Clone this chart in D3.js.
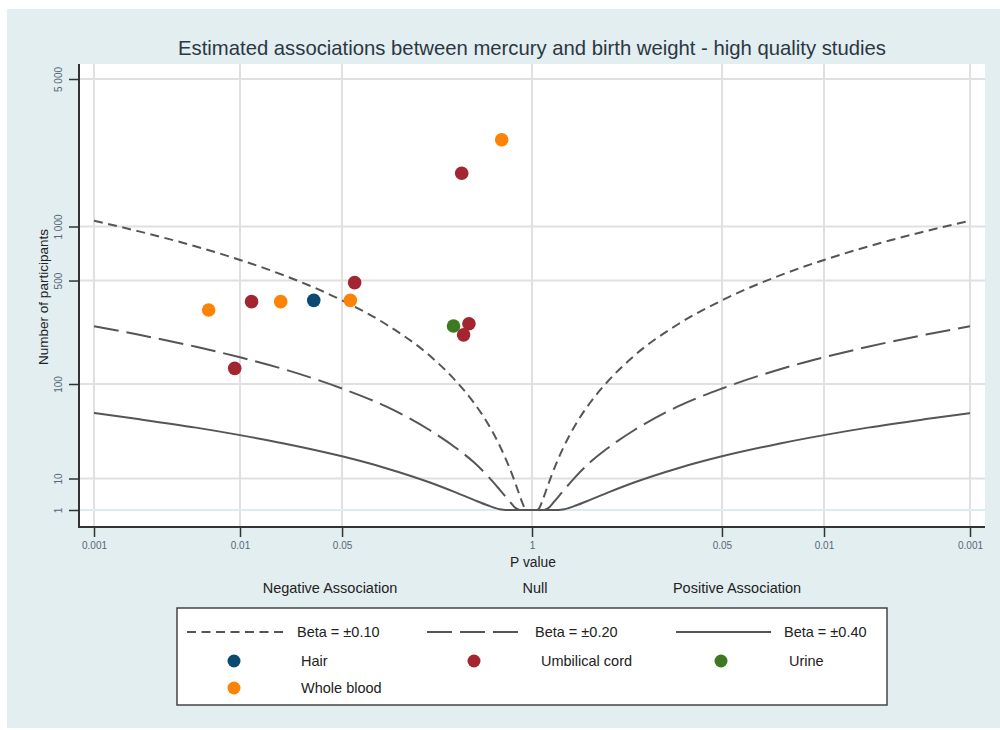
<!DOCTYPE html>
<html>
<head>
<meta charset="utf-8">
<script src="https://cdn.jsdelivr.net/npm/d3@7"></script>
<style>
  html, body { margin: 0; padding: 0; background: #ffffff; }
  svg { display: block; font-family: "Liberation Sans", Arial, sans-serif; }
</style>
</head>
<body>
<svg id="chart" width="1000" height="730"></svg>
<script>
// ---- data ----------------------------------------------------------------
// p-value ticks, mirrored on the negative (left) and positive (right) side
const xTickP = [0.001, 0.01, 0.05, 1];
const yTicks = [1, 10, 100, 500, 1000, 5000];
const yTickLabels = ["1", "10", "100", "500", "1 000", "5 000"];

// studies: group, p value, number of participants, direction (-1 negative)
const studyGroup = ["Whole blood", "Umbilical cord", "Umbilical cord", "Whole blood", "Hair",
                    "Whole blood", "Umbilical cord", "Whole blood", "Umbilical cord", "Urine",
                    "Umbilical cord", "Umbilical cord"];
const studyP = [0.62, 0.33, 0.061, 0.057, 0.032, 0.019, 0.012, 0.0061, 0.0092, 0.29, 0.37, 0.34];
const studyN = [2680, 1860, 486, 380, 380, 373, 373, 331, 132, 261, 270, 228];
const studySide = [-1, -1, -1, -1, -1, -1, -1, -1, -1, -1, -1, -1];

// effect-size contours: [p value, participants], drawn on both sides
const contourBeta010 = [[0.001, 1072], [0.002, 945], [0.005, 780], [0.01, 657], [0.02, 536],
  [0.05, 380], [0.1, 268], [0.2, 163], [0.3, 106], [0.4, 70], [0.5, 45], [0.6, 27],
  [0.7, 14.5], [0.8, 6.2], [0.85, 3.4], [0.9, 1.5], [0.92, 1]];
const contourBeta020 = [[0.001, 260], [0.002, 229], [0.005, 189], [0.01, 159], [0.02, 130],
  [0.05, 92], [0.1, 65], [0.2, 39], [0.3, 25.5], [0.4, 17], [0.5, 10.8], [0.6, 6.4],
  [0.7, 3.4], [0.76, 2], [0.82, 1]];
const contourBeta040 = [[0.001, 56.8], [0.002, 50], [0.005, 41.4], [0.01, 34.8], [0.02, 28.4],
  [0.05, 20.2], [0.1, 14.2], [0.2, 8.6], [0.3, 5.6], [0.4, 3.7], [0.5, 2.4], [0.6, 1.45],
  [0.66, 1], [1, 1]];

const groups = ["Hair", "Umbilical cord", "Urine", "Whole blood"];
const groupColors = ["#0b4a73", "#a3252f", "#3c7a22", "#fd8306"];
const contourNames = ["Beta = \u00b10.10", "Beta = \u00b10.20", "Beta = \u00b10.40"];
const contourDash = ["9,5.5", "25,8", null];

// ---- layout --------------------------------------------------------------
const svg = d3.select("#chart");
const plot = { left: 79, right: 985, top: 64, bottom: 527 };

// background panel
svg.append("rect").attr("x", 7).attr("y", 9).attr("width", 993).attr("height", 719)
  .attr("fill", "#e2eef0");
svg.append("rect").attr("x", plot.left).attr("y", plot.top)
  .attr("width", plot.right - plot.left).attr("height", plot.bottom - plot.top)
  .attr("fill", "#ffffff");

// x: signed -log10(p); y: squared log10(participants)
const x = d3.scaleLinear().domain([-3, 3]).range([94, 970]);
const y = d3.scalePow().exponent(2).domain([0, Math.log10(5000)]).range([510, 79]);
const sx = (p, side) => x(side * -Math.log10(p));
const sy = n => y(Math.log10(n));

const xTickVals = [];
xTickP.forEach(p => xTickVals.push(Math.log10(p)));
xTickP.slice(0, -1).reverse().forEach(p => xTickVals.push(-Math.log10(p)));
const pLabel = v => { const p = Math.pow(10, -Math.abs(v)); return p >= 0.999 ? "1" : d3.format("")(+p.toPrecision(1)); };

// grid
const grid = svg.append("g");
grid.selectAll("line.v").data(xTickVals).join("line")
  .attr("x1", d => x(d)).attr("x2", d => x(d))
  .attr("y1", plot.top).attr("y2", plot.bottom)
  .attr("stroke", "#e0e0e0").attr("stroke-width", 2);
grid.selectAll("line.h").data(yTicks).join("line")
  .attr("x1", plot.left).attr("x2", plot.right)
  .attr("y1", d => sy(d)).attr("y2", d => sy(d))
  .attr("stroke", d => d === 1 ? "#d9ecee" : "#e0e0e0").attr("stroke-width", 2);

// contours
const line = d3.line().curve(d3.curveMonotoneX);
const contours = [contourBeta010, contourBeta020, contourBeta040];
contours.forEach((c, i) => {
  [-1, 1].forEach(side => {
    const pts = c.map(([p, n]) => [sx(p, side), sy(n)]);
    if (side === 1) pts.reverse();
    svg.append("path").attr("d", line(pts))
      .attr("fill", "none").attr("stroke", "#555555").attr("stroke-width", 2)
      .attr("stroke-dasharray", contourDash[i]);
  });
});

// axes
const xAxis = d3.axisBottom(x).tickValues(xTickVals).tickFormat(pLabel)
  .tickSize(10).tickSizeOuter(0).tickPadding(5);
const gx = svg.append("g").attr("transform", `translate(0,${plot.bottom})`).call(xAxis);
gx.select(".domain").remove();
gx.selectAll(".tick line").attr("stroke", "#333").attr("stroke-width", 1.5);
gx.selectAll(".tick text").attr("fill", "#56677a").attr("font-size", 10)
  .attr("font-family", "'Liberation Sans', Arial, sans-serif");

const yAxis = d3.axisLeft(y).tickValues(yTicks.map(Math.log10))
  .tickFormat((d, i) => yTickLabels[i]).tickSize(10).tickSizeOuter(0).tickPadding(6);
const gy = svg.append("g").attr("transform", `translate(${plot.left},0)`).call(yAxis);
gy.select(".domain").remove();
gy.selectAll(".tick line").attr("stroke", "#333").attr("stroke-width", 1.5);
gy.selectAll(".tick text").attr("fill", "#56677a").attr("font-size", 10)
  .attr("font-family", "'Liberation Sans', Arial, sans-serif")
  .attr("transform", "rotate(-90)").attr("x", 0).attr("dy", null)
  .attr("y", -17).attr("text-anchor", "middle");

svg.append("line").attr("x1", plot.left).attr("x2", plot.left)
  .attr("y1", plot.top).attr("y2", plot.bottom + 1).attr("stroke", "#333").attr("stroke-width", 2);
svg.append("line").attr("x1", plot.left).attr("x2", plot.right)
  .attr("y1", plot.bottom).attr("y2", plot.bottom).attr("stroke", "#333").attr("stroke-width", 2);

// study markers
svg.append("g").selectAll("circle").data(studyP.map((p, i) => i)).join("circle")
  .attr("cx", i => sx(studyP[i], studySide[i]))
  .attr("cy", i => sy(studyN[i]))
  .attr("r", 6.8)
  .attr("fill", i => groupColors[groups.indexOf(studyGroup[i])]);

// titles and labels
svg.append("text").attr("x", 532).attr("y", 55).attr("text-anchor", "middle")
  .attr("font-size", 20.3).attr("fill", "#2c3742")
  .text("Estimated associations between mercury and birth weight - high quality studies");
svg.append("text").attr("transform", "translate(48,297) rotate(-90)").attr("text-anchor", "middle")
  .attr("font-size", 13.5).attr("fill", "#222").text("Number of participants");
svg.append("text").attr("x", 533).attr("y", 567).attr("text-anchor", "middle")
  .attr("font-size", 13.8).attr("fill", "#222").text("P value");
[["Negative Association", 330], ["Null", 535], ["Positive Association", 737]].forEach(([t, cx]) => {
  svg.append("text").attr("x", cx).attr("y", 593).attr("text-anchor", "middle")
    .attr("font-size", 14.5).attr("fill", "#222").text(t);
});

// legend
const lg = svg.append("g");
lg.append("rect").attr("x", 177).attr("y", 608).attr("width", 710).attr("height", 97)
  .attr("fill", "#fff").attr("stroke", "#444").attr("stroke-width", 1.5);
const lineX = [[187, 283, 297], [427, 521, 535], [676, 771, 784]];
contourNames.forEach((name, i) => {
  lg.append("line").attr("x1", lineX[i][0]).attr("x2", lineX[i][1]).attr("y1", 632).attr("y2", 632)
    .attr("stroke", "#555").attr("stroke-width", 2).attr("stroke-dasharray", contourDash[i]);
  lg.append("text").attr("x", lineX[i][2]).attr("y", 637).attr("font-size", 14.5)
    .attr("fill", "#222").text(name);
});
const dotPos = [[234, 301, 661], [474, 541, 661], [721, 789, 661], [234, 301, 688]];
groups.forEach((g, i) => {
  lg.append("circle").attr("cx", dotPos[i][0]).attr("cy", dotPos[i][2]).attr("r", 6.5)
    .attr("fill", groupColors[i]);
  lg.append("text").attr("x", dotPos[i][1]).attr("y", dotPos[i][2] + 5).attr("font-size", 14.5)
    .attr("fill", "#222").text(g);
});
</script>
</body>
</html>
